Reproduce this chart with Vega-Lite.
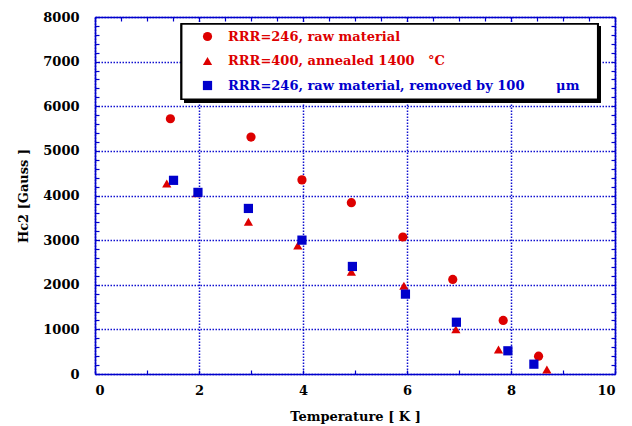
{
  "$schema": "https://vega.github.io/schema/vega-lite/v6.json",
  "width": 520,
  "height": 357,
  "autosize": {"type": "none"},
  "padding": {"left": 95, "top": 17, "right": 17, "bottom": 52},
  "background": "white",
  "config": {
    "font": "DejaVu Serif",
    "view": {"stroke": null},
    "axis": {
      "domainColor": "#0000cc",
      "domainWidth": 1.6,
      "ticks": true,
      "tickColor": "#0000cc",
      "tickWidth": 1.2,
      "tickSize": 4,
      "gridColor": "#1010d0",
      "gridDash": [1.5, 1.5],
      "gridWidth": 1.5,
      "labelFont": "DejaVu Serif",
      "labelFontWeight": "bold",
      "labelFontSize": 13,
      "labelColor": "black",
      "titleFont": "DejaVu Serif",
      "titleFontWeight": "bold",
      "titleFontSize": 13,
      "titleColor": "black"
    }
  },
  "data": {
    "values": [
      {"series": "RRR=246, raw material", "T": 1.45, "H": 5720},
      {"series": "RRR=246, raw material", "T": 3.0, "H": 5310},
      {"series": "RRR=246, raw material", "T": 3.98, "H": 4350},
      {"series": "RRR=246, raw material", "T": 4.93, "H": 3840},
      {"series": "RRR=246, raw material", "T": 5.92, "H": 3070},
      {"series": "RRR=246, raw material", "T": 6.88, "H": 2120},
      {"series": "RRR=246, raw material", "T": 7.85, "H": 1200},
      {"series": "RRR=246, raw material", "T": 8.53, "H": 400},
      {"series": "RRR=400, annealed 1400\u00a0\u00a0\u00a0°C", "T": 1.38, "H": 4270},
      {"series": "RRR=400, annealed 1400\u00a0\u00a0\u00a0°C", "T": 1.96, "H": 4050},
      {"series": "RRR=400, annealed 1400\u00a0\u00a0\u00a0°C", "T": 2.95, "H": 3410},
      {"series": "RRR=400, annealed 1400\u00a0\u00a0\u00a0°C", "T": 3.9, "H": 2880},
      {"series": "RRR=400, annealed 1400\u00a0\u00a0\u00a0°C", "T": 4.93, "H": 2290},
      {"series": "RRR=400, annealed 1400\u00a0\u00a0\u00a0°C", "T": 5.94, "H": 1980},
      {"series": "RRR=400, annealed 1400\u00a0\u00a0\u00a0°C", "T": 6.94, "H": 1000},
      {"series": "RRR=400, annealed 1400\u00a0\u00a0\u00a0°C", "T": 7.76, "H": 550},
      {"series": "RRR=400, annealed 1400\u00a0\u00a0\u00a0°C", "T": 8.69, "H": 100},
      {"series": "RRR=246, raw material, removed by 100\u00a0\u00a0\u00a0\u00a0\u00a0\u00a0\u00a0μm", "T": 1.51, "H": 4340},
      {"series": "RRR=246, raw material, removed by 100\u00a0\u00a0\u00a0\u00a0\u00a0\u00a0\u00a0μm", "T": 1.98, "H": 4070},
      {"series": "RRR=246, raw material, removed by 100\u00a0\u00a0\u00a0\u00a0\u00a0\u00a0\u00a0μm", "T": 2.95, "H": 3710},
      {"series": "RRR=246, raw material, removed by 100\u00a0\u00a0\u00a0\u00a0\u00a0\u00a0\u00a0μm", "T": 3.98, "H": 3000},
      {"series": "RRR=246, raw material, removed by 100\u00a0\u00a0\u00a0\u00a0\u00a0\u00a0\u00a0μm", "T": 4.95, "H": 2410},
      {"series": "RRR=246, raw material, removed by 100\u00a0\u00a0\u00a0\u00a0\u00a0\u00a0\u00a0μm", "T": 5.97, "H": 1790},
      {"series": "RRR=246, raw material, removed by 100\u00a0\u00a0\u00a0\u00a0\u00a0\u00a0\u00a0μm", "T": 6.95, "H": 1160},
      {"series": "RRR=246, raw material, removed by 100\u00a0\u00a0\u00a0\u00a0\u00a0\u00a0\u00a0μm", "T": 7.94, "H": 520},
      {"series": "RRR=246, raw material, removed by 100\u00a0\u00a0\u00a0\u00a0\u00a0\u00a0\u00a0μm", "T": 8.44, "H": 220}
    ]
  },
  "layer": [
    {
      "description": "legend box drop shadow; also carries the mirrored top and right axes",
      "mark": {"type": "rect", "color": "black"},
      "encoding": {
        "x": {"datum": 1.72, "type": "quantitative",
          "scale": {"domain": [0, 10], "nice": false},
          "axis": {"orient": "top", "title": null, "labels": false, "grid": false,
            "encoding": {"ticks": {"y2": {"value": 4}}},
            "values": [0, 0.5, 1, 1.5, 2, 2.5, 3, 3.5, 4, 4.5, 5, 5.5, 6, 6.5, 7, 7.5, 8, 8.5, 9, 9.5, 10]}},
        "x2": {"datum": 9.72},
        "y": {"datum": 7780, "type": "quantitative",
          "scale": {"domain": [0, 8000], "nice": false},
          "axis": {"orient": "right", "title": null, "labels": false, "grid": false,
            "encoding": {"ticks": {"x2": {"value": -4}}},
            "values": [0, 200, 400, 600, 800, 1000, 1200, 1400, 1600, 1800, 2000, 2200, 2400, 2600, 2800, 3000, 3200, 3400, 3600, 3800, 4000, 4200, 4400, 4600, 4800, 5000, 5200, 5400, 5600, 5800, 6000, 6200, 6400, 6600, 6800, 7000, 7200, 7400, 7600, 7800, 8000]}},
        "y2": {"datum": 6090}
      }
    },
    {
      "description": "legend box",
      "mark": {"type": "rect", "fill": "white", "stroke": "black", "strokeWidth": 1.5},
      "encoding": {
        "x": {"datum": 1.667, "type": "quantitative", "scale": {"domain": [0, 10], "nice": false}, "axis": null},
        "x2": {"datum": 9.667},
        "y": {"datum": 7843, "type": "quantitative", "scale": {"domain": [0, 8000], "nice": false}, "axis": null},
        "y2": {"datum": 6156}
      }
    },
    {
      "description": "measured upper critical field points",
      "mark": {"type": "point", "filled": true, "opacity": 1, "size": 85},
      "encoding": {
        "x": {"field": "T", "type": "quantitative",
          "scale": {"domain": [0, 10], "nice": false},
          "axis": {"orient": "bottom", "title": "Temperature [ K ]", "titlePadding": 13,
            "labelPadding": 6, "format": "d", "grid": true,
            "encoding": {"ticks": {"y2": {"value": -4}}},
            "values": [0, 0.5, 1, 1.5, 2, 2.5, 3, 3.5, 4, 4.5, 5, 5.5, 6, 6.5, 7, 7.5, 8, 8.5, 9, 9.5, 10],
            "labelExpr": "datum.value % 2 === 0 ? datum.label : ''",
            "gridOpacity": {"condition": {"test": "datum.value % 2 === 0", "value": 1}, "value": 0}}},
        "y": {"field": "H", "type": "quantitative",
          "scale": {"domain": [0, 8000], "nice": false},
          "axis": {"orient": "left", "title": "Hc2 [Gauss ]", "titlePadding": 12,
            "labelPadding": 12, "format": "d", "grid": true,
            "encoding": {"ticks": {"x2": {"value": 4}}},
            "values": [0, 200, 400, 600, 800, 1000, 1200, 1400, 1600, 1800, 2000, 2200, 2400, 2600, 2800, 3000, 3200, 3400, 3600, 3800, 4000, 4200, 4400, 4600, 4800, 5000, 5200, 5400, 5600, 5800, 6000, 6200, 6400, 6600, 6800, 7000, 7200, 7400, 7600, 7800, 8000],
            "labelExpr": "datum.value % 1000 === 0 ? datum.label : ''",
            "gridOpacity": {"condition": {"test": "datum.value % 1000 === 0", "value": 1}, "value": 0}}},
        "color": {"field": "series", "type": "nominal",
          "scale": {
            "domain": ["RRR=246, raw material", "RRR=400, annealed 1400\u00a0\u00a0\u00a0°C", "RRR=246, raw material, removed by 100\u00a0\u00a0\u00a0\u00a0\u00a0\u00a0\u00a0μm"],
            "range": ["#dd0000", "#dd0000", "#0000cc"]},
          "legend": {
            "orient": "none", "legendX": 106, "legendY": 13, "title": null,
            "padding": 0, "symbolSize": 85, "symbolStrokeWidth": 0,
            "labelFont": "DejaVu Serif", "labelFontWeight": "bold", "labelFontSize": 13,
            "labelOffset": 14, "rowPadding": 10.5, "labelLimit": 0,
            "encoding": {"labels": {"fill": {"condition": {"test": "indexof(datum.label, 'removed') >= 0", "value": "#0000cc"}, "value": "#dd0000"}}}
          }},
        "shape": {"field": "series", "type": "nominal",
          "scale": {
            "domain": ["RRR=246, raw material", "RRR=400, annealed 1400\u00a0\u00a0\u00a0°C", "RRR=246, raw material, removed by 100\u00a0\u00a0\u00a0\u00a0\u00a0\u00a0\u00a0μm"],
            "range": ["circle", "triangle-up", "square"]}}
      }
    }
  ]
}
